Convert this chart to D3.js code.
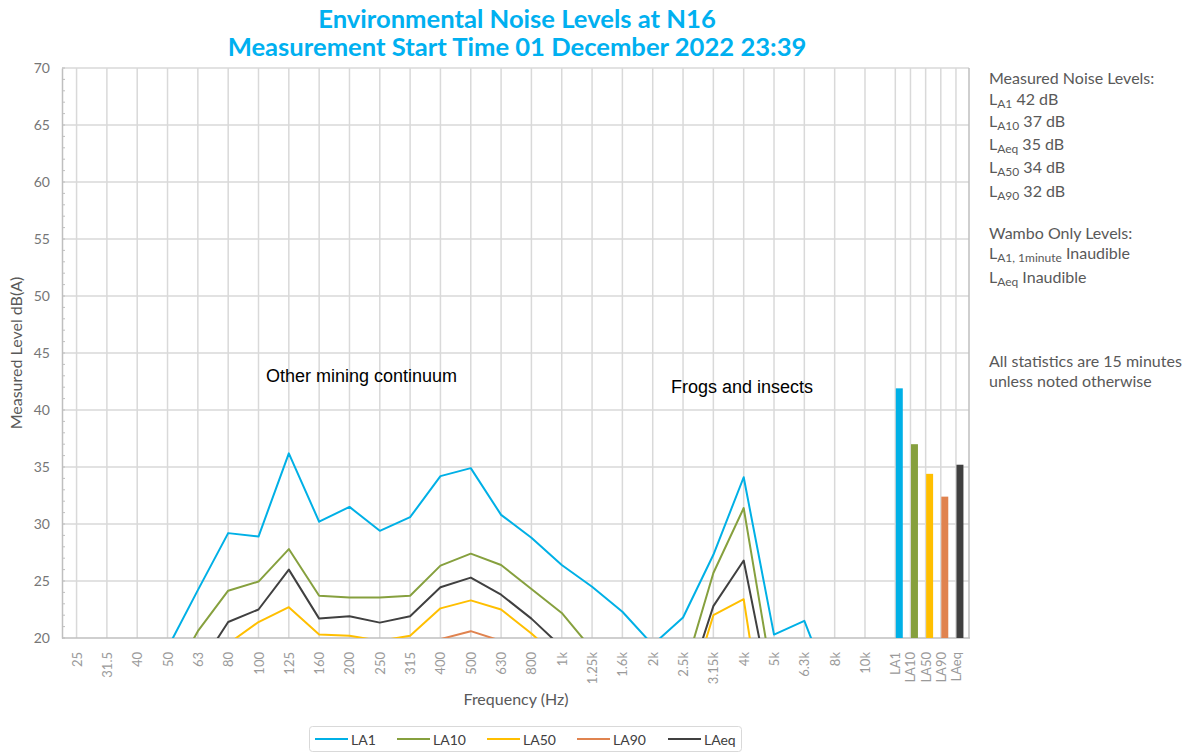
<!DOCTYPE html>
<html>
<head>
<meta charset="utf-8">
<script src="https://cdn.jsdelivr.net/npm/d3@7"></script>
<style>
  body { margin: 0; background: #fff; }
  svg { display: block; font-family: Lato, 'Open Sans', sans-serif; }
</style>
</head>
<body>
<svg width="1192" height="754"></svg>
<script>
'use strict'

// frequency bands (1/3 octave) and overall statistics
const freqs = ['25', '31.5', '40', '50', '63', '80', '100', '125', '160', '200', '250', '315', '400', '500',
  '630', '800', '1k', '1.25k', '1.6k', '2k', '2.5k', '3.15k', '4k', '5k', '6.3k', '8k', '10k']
const stats = ['LA1', 'LA10', 'LA50', 'LA90', 'LAeq']

const la1 = [14, 15, 16, 19.1, 24.2, 29.2, 28.9, 36.2, 30.2, 31.5, 29.4, 30.6, 34.2, 34.9,
  30.8, 28.8, 26.4, 24.5, 22.3, 19.4, 21.8, 27.3, 34.1, 20.3, 21.5, 14.7, 13]
const la10 = [12, 13, 14, 15.8, 20.6, 24.15, 24.95, 27.8, 23.7, 23.55, 23.55, 23.7, 26.35, 27.4,
  26.4, 24.3, 22.2, 19.0, 17, 16, 16.7, 25.7, 31.4, 15.6, 15, 12, 11]
const la50 = [9, 10, 11, 13, 16, 19.5, 21.4, 22.7, 20.3, 20.2, 19.75, 20.2, 22.6, 23.3,
  22.5, 20.4, 18, 15, 13, 12, 13.3, 22.0, 23.4, 6.4, 8, 7, 6]
const la90 = [7, 8, 9, 10, 13, 16, 17, 18, 17, 17, 17, 17.5, 19.9, 20.6,
  19.75, 17, 15, 13, 11, 10, 10, 12, 14, 5, 6, 5, 4]
const laeq = [11, 12, 13, 15, 17.3, 21.4, 22.5, 26.0, 21.7, 21.9, 21.35, 21.9, 24.45, 25.3,
  23.8, 21.7, 19.2, 17, 15, 14, 14.6, 22.8, 26.8, 13.5, 13, 11, 10]

const statValues = [41.9, 37.0, 34.4, 32.4, 35.2]
const colors = ['#00B0E6', '#86A03E', '#FFBF00', '#E0834F', '#404040']

const yTicks = [20, 25, 30, 35, 40, 45, 50, 55, 60, 65, 70]

const measured = [['A1', '42 dB'], ['A10', '37 dB'], ['Aeq', '35 dB'], ['A50', '34 dB'], ['A90', '32 dB']]
const wambo = [['A1, 1minute', 'Inaudible'], ['Aeq', 'Inaudible']]

const series = [la1, la10, la50, la90, laeq]

const plot = { left: 62, right: 969, top: 68, bottom: 638 }

const svg = d3.select('svg')

// slot positions: bands one unit apart, statistics half a unit apart
const slots = freqs.map((f, i) => i).concat(stats.map((s, i) => freqs.length + i * 0.5))
const x = d3.scaleLinear().domain([-0.48, 29.43]).range([plot.left, plot.right])
const y = d3.scaleLinear().domain([20, 70]).range([plot.bottom, plot.top])

// title
const title = svg.append('g')
  .attr('font-weight', 700)
  .attr('font-size', 25.6)
  .attr('fill', '#00B0F0')
  .attr('text-anchor', 'middle')
title.append('text').attr('x', 517).attr('y', 28).text('Environmental Noise Levels at N16')
title.append('text').attr('x', 517).attr('y', 56).text('Measurement Start Time 01 December 2022 23:39')

// grid
const grid = svg.append('g').attr('stroke', '#d9d9d9').attr('stroke-width', 1.5)
grid.selectAll('line.h').data(yTicks.slice(1)).enter().append('line')
  .attr('x1', plot.left).attr('x2', plot.right)
  .attr('y1', (d) => y(d)).attr('y2', (d) => y(d))
grid.selectAll('line.v').data(slots).enter().append('line')
  .attr('x1', (d) => x(d)).attr('x2', (d) => x(d))
  .attr('y1', plot.top).attr('y2', plot.bottom)

// y axis
const yAxis = svg.append('g').attr('transform', `translate(${plot.left},0)`)
  .call(d3.axisLeft(y).tickValues(yTicks).tickSize(0).tickPadding(12))
yAxis.select('.domain').attr('stroke', '#bfbfbf').attr('stroke-width', 1.5)
yAxis.selectAll('text').attr('font-size', 14).attr('fill', '#767676').attr('font-family', 'Lato')
svg.append('g').selectAll('line').data(d3.range(20, 71, 1)).enter().append('line')
  .attr('x1', plot.left).attr('x2', plot.left + 3)
  .attr('y1', (d) => y(d)).attr('y2', (d) => y(d))
  .attr('stroke', '#bfbfbf')

// bottom + right frame
svg.append('line').attr('x1', plot.left).attr('x2', plot.right + 1)
  .attr('y1', plot.bottom).attr('y2', plot.bottom)
  .attr('stroke', '#bfbfbf').attr('stroke-width', 1.5)
svg.append('line').attr('x1', plot.right).attr('x2', plot.right)
  .attr('y1', plot.top).attr('y2', plot.bottom)
  .attr('stroke', '#bfbfbf').attr('stroke-width', 1.5)

// x tick labels
const xLabels = freqs.concat(stats)
svg.append('g').selectAll('text').data(xLabels).enter().append('text')
  .attr('transform', (d, i) => `translate(${x(slots[i]) + 5},652) rotate(-90)`)
  .attr('text-anchor', 'end')
  .attr('font-size', 13)
  .attr('fill', '#9a9a9a')
  .text((d) => d)

// axis titles
svg.append('text')
  .attr('transform', `translate(22,${(plot.top + plot.bottom) / 2}) rotate(-90)`)
  .attr('text-anchor', 'middle').attr('font-size', 16).attr('fill', '#595959')
  .text('Measured Level dB(A)')
svg.append('text').attr('x', 516).attr('y', 705)
  .attr('text-anchor', 'middle').attr('font-size', 16).attr('fill', '#595959')
  .text('Frequency (Hz)')

// clip lines at the axis minimum
svg.append('clipPath').attr('id', 'plot-clip').append('rect')
  .attr('x', plot.left).attr('y', plot.top)
  .attr('width', plot.right - plot.left).attr('height', plot.bottom - plot.top)

const line = d3.line().x((d, i) => x(slots[i])).y((d) => y(d))
svg.append('g').attr('clip-path', 'url(#plot-clip)')
  .selectAll('path').data(series).enter().append('path')
  .attr('d', line)
  .attr('fill', 'none')
  .attr('stroke', (d, i) => colors[i])
  .attr('stroke-width', 2)
  .attr('stroke-linejoin', 'round')

// statistic bars
const barW = x(0.23) - x(0)
svg.append('g').selectAll('rect').data(statValues).enter().append('rect')
  .attr('x', (d, i) => x(slots[freqs.length + i]) + 0.5)
  .attr('y', (d) => y(d))
  .attr('width', barW)
  .attr('height', (d) => y(20) - y(d))
  .attr('fill', (d, i) => colors[i])

// annotations
const notes = svg.append('g').attr('font-family', '"Liberation Sans", Arial, sans-serif')
  .attr('font-size', 18).attr('fill', '#000')
notes.append('text').attr('x', 266).attr('y', 382).text('Other mining continuum')
notes.append('text').attr('x', 671).attr('y', 393).text('Frogs and insects')

// side panel
const panel = svg.append('g').attr('font-size', 16).attr('fill', '#595959')
const subLine = (yy, sub, rest) => {
  const t = panel.append('text').attr('x', 989).attr('y', yy)
  t.append('tspan').text('L')
  t.append('tspan').attr('font-size', 12).attr('dy', 3).text(sub)
  t.append('tspan').attr('dy', -3).text(' ' + rest)
}
panel.append('text').attr('x', 989).attr('y', 84).text('Measured Noise Levels:')
const measuredY = [105, 127, 150, 173, 197]
measured.forEach((m, i) => subLine(measuredY[i], m[0], m[1]))
panel.append('text').attr('x', 989).attr('y', 239).text('Wambo Only Levels:')
wambo.forEach((m, i) => subLine([259, 283][i], m[0], m[1]))
panel.append('text').attr('x', 989).attr('y', 367).text('All statistics are 15 minutes')
panel.append('text').attr('x', 989).attr('y', 387).text('unless noted otherwise')

// legend
const legend = svg.append('g')
legend.append('rect').attr('x', 309.5).attr('y', 726.5).attr('width', 432).attr('height', 25)
  .attr('rx', 3).attr('fill', '#fff').attr('stroke', '#d9d9d9')
const legendX = [315, 397, 487, 577, 668]
stats.forEach((s, i) => {
  legend.append('line').attr('x1', legendX[i]).attr('x2', legendX[i] + 33)
    .attr('y1', 739).attr('y2', 739)
    .attr('stroke', colors[i]).attr('stroke-width', 2)
  legend.append('text').attr('x', legendX[i] + 36).attr('y', 744.5)
    .attr('font-size', 14).attr('fill', '#404040').text(s)
})
</script>
</body>
</html>
